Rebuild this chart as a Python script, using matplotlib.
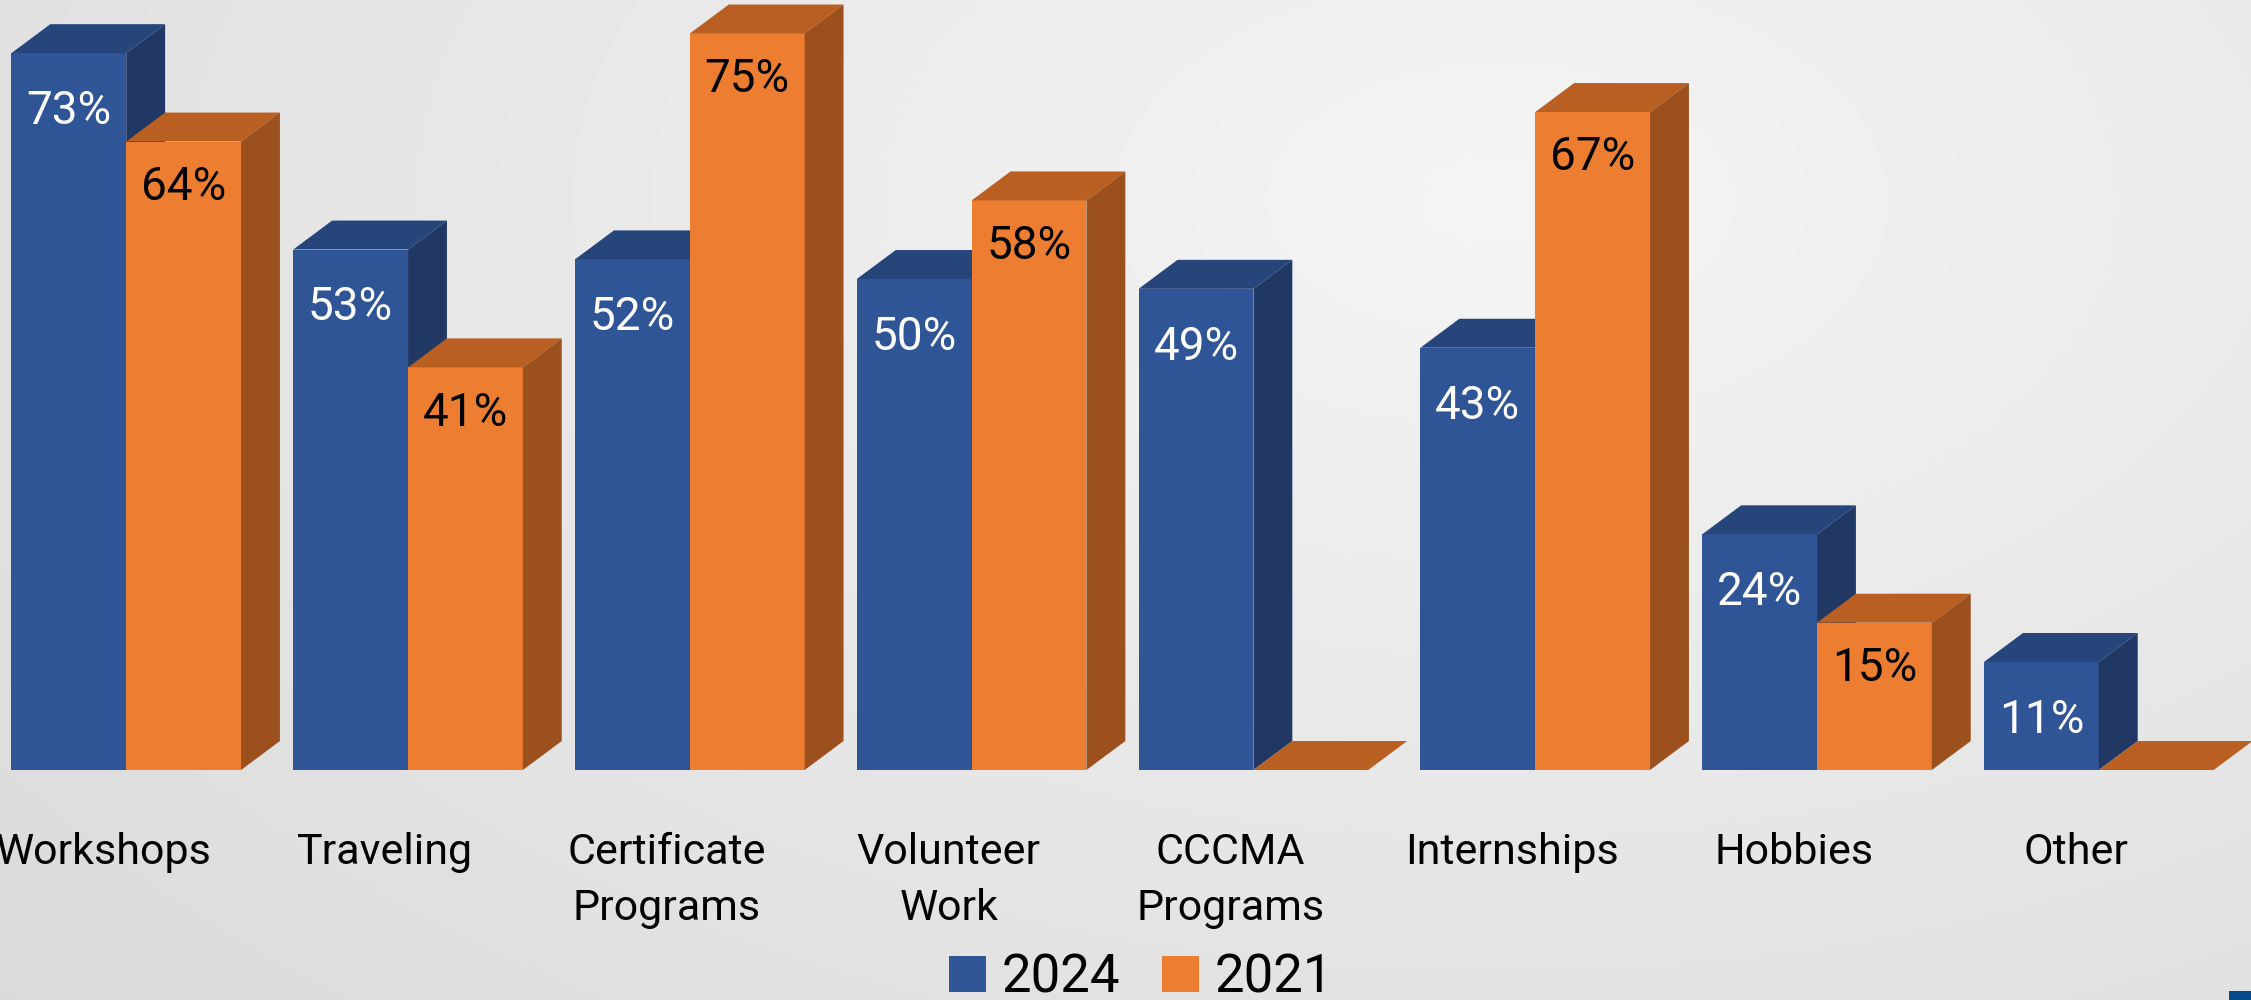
import numpy as np
import matplotlib
matplotlib.use('Agg')
import matplotlib.pyplot as plt
from matplotlib.patches import Polygon, Rectangle

categories = ["Workshops", "Traveling", "Certificate\nPrograms", "Volunteer\nWork",
              "CCCMA\nPrograms", "Internships", "Hobbies", "Other"]
values_2024 = [73, 53, 52, 50, 49, 43, 24, 11]
values_2021 = [64, 41, 75, 58, 0, 67, 15, 0]
series_labels = ["2024", "2021"]

FONT = ['Roboto', 'DejaVu Sans']
plt.rcParams['font.family'] = FONT

W, H = 2251, 1000
fig = plt.figure(figsize=(W / 100, H / 100), dpi=100)

# background gradient
bg = fig.add_axes([0, 0, 1, 1], zorder=0)
yy, xx = np.mgrid[0:H, 0:W]
r = np.sqrt(((xx - 1500) / 1700) ** 2 + ((yy - 200) / 1000) ** 2)
g = np.clip(245 - 22 * r, 200, 255) / 255
bg.imshow(np.dstack([g, g, g]), extent=[0, W, H, 0], aspect='auto')
bg.set_xlim(0, W)
bg.set_ylim(H, 0)
bg.axis('off')

ax = fig.add_axes([0, 0, 1, 1], zorder=1)
ax.patch.set_alpha(0)
ax.set_xlim(-0.448, 7.540)
ax.set_ylim(-23.42, 78.41)
ax.axis('off')

w = 0.4074      # bar width (category units)
ddx = 0.138     # depth offset x
ddy = 2.95      # depth offset y (percent units)

styles = [
    dict(front='#2F5597', top='#26457B', side='#213864', txt='white', off=5.9),
    dict(front='#ED7D31', top='#B95F22', side='#9B501E', txt='black', off=4.6),
]

x = np.arange(len(categories))
handles = []
for s, (vals, st) in enumerate(zip([values_2024, values_2021], styles)):
    x0 = x - w + s * w
    z = 2 + s
    bars = ax.bar(x0 + w / 2, vals, width=w, color=st['front'], zorder=z,
                  label=series_labels[s], linewidth=0)
    handles.append(bars)
    for xl, v in zip(x0, vals):
        top = Polygon([(xl, v), (xl + w, v), (xl + w + ddx, v + ddy), (xl + ddx, v + ddy)],
                      closed=True, facecolor=st['top'], edgecolor='none', zorder=z)
        side = Polygon([(xl + w, 0), (xl + w + ddx, ddy), (xl + w + ddx, v + ddy), (xl + w, v)],
                       closed=True, facecolor=st['side'], edgecolor='none', zorder=z)
        ax.add_patch(top)
        ax.add_patch(side)
        if v > 0:
            ax.text(xl + w / 2, v - st['off'], f"{v}%", ha='center', va='center',
                    fontsize=33, color=st['txt'], zorder=5)

for i, c in enumerate(categories):
    ax.text(i - 0.081, -6.35, c, ha='center', va='top', fontsize=31,
            color='black', linespacing=1.46, zorder=5)

fig.legend(handles=handles, labels=series_labels, loc='center',
           bbox_to_anchor=(0.507, 0.022), ncol=2, frameon=False,
           prop={'family': FONT, 'size': 38}, handlelength=0.69, handleheight=0.69,
           handletextpad=0.3, columnspacing=0.8, borderpad=0)

fig.add_artist(Rectangle((2229 / W, 0), 22 / W, 9 / H, transform=fig.transFigure,
                         facecolor='#064A8A', edgecolor='none', zorder=10))

fig.savefig('out.png', dpi=100)
